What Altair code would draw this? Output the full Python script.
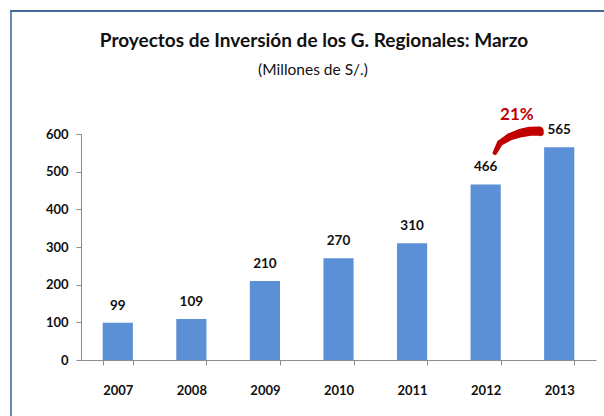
import altair as alt
import pandas as pd

# Investment projects of regional governments, March of each year (millions of S/.)
years = ["2007", "2008", "2009", "2010", "2011", "2012", "2013"]
values = [99, 109, 210, 270, 310, 466, 565]
y_ticks = [0, 100, 200, 300, 400, 500, 600]

title_text = "Proyectos de Inversión de los G. Regionales: Marzo"
subtitle_text = "(Millones de S/.)"

# Growth note between the last two years
growth_label = ["21%"]
growth_pos = [5.425]
growth_val = [650]

# Hand-drawn style arrow stroke (x in category index units, y in data units)
arc_x = [5.126, 5.194, 5.330, 5.466, 5.602, 5.729, 5.748]
arc_y = [550.4, 576.1, 592.8, 601.9, 607.2, 608.0, 602.6]
arc_w = [4.5, 6.0, 7.5, 8.5, 9.0, 9.0, 6.0]

W, H = 515, 226
FONT = "Lato"
BAR = "#5B8FD6"
AXIS_GREY = "#8C8C8C"
FRAME_LEFT = "#6A8AB6"
FRAME_TOP = "#47689B"
RED = "#C00000"
INK = "#111111"

bars_df = pd.DataFrame({"year": years, "value": values})
arc_df = pd.DataFrame({"x": arc_x, "y": arc_y, "w": arc_w})
note_df = pd.DataFrame({"x": growth_pos, "y": growth_val, "t": growth_label})
one = pd.DataFrame({"k": [0]})

x_enc = alt.X(
    "year:N",
    sort=None,
    scale=alt.Scale(paddingInner=0.59, paddingOuter=0.295),
    axis=alt.Axis(
        title=None, labelAngle=0, tickBand="extent", tickSize=5,
        labelFontSize=13, labelFontWeight="bold", labelColor=INK,
        labelPadding=19, domainColor=AXIS_GREY, tickColor=AXIS_GREY,
    ),
)
y_scale = alt.Scale(domain=[0, 600])
y_enc = alt.Y(
    "value:Q",
    scale=y_scale,
    axis=alt.Axis(
        title=None, values=y_ticks, grid=False, tickSize=5,
        labelFontSize=13, labelFontWeight="bold", labelColor=INK,
        labelPadding=8, domainColor=AXIS_GREY, tickColor=AXIS_GREY,
    ),
)

base = alt.Chart(bars_df)
bars = base.mark_bar(color=BAR).encode(x=x_enc, y=y_enc)
labels = base.mark_text(
    baseline="alphabetic", dy=-13, fontSize=13.5, fontWeight="bold", color=INK
).encode(x=x_enc, y=y_enc, text="value:Q")

qx = alt.Scale(domain=[-0.5, 6.5])
arc = alt.Chart(arc_df).mark_trail(color=RED).encode(
    x=alt.X("x:Q", scale=qx, axis=None),
    y=alt.Y("y:Q", scale=y_scale, axis=None),
    size=alt.Size("w:Q", scale=None, legend=None),
    order=alt.Order("x:Q"),
)
note = alt.Chart(note_df).mark_text(
    fontSize=17, fontWeight="bold", color=RED, baseline="middle"
).encode(
    x=alt.X("x:Q", scale=qx, axis=None),
    y=alt.Y("y:Q", scale=y_scale, axis=None),
    text="t:N",
)

# Chart heading, centred over the framed area
title = alt.Chart(one).mark_text(
    fontSize=19, fontWeight="bold", color=INK, baseline="alphabetic", text=title_text
).encode(x=alt.value(233), y=alt.value(-87))
subtitle = alt.Chart(one).mark_text(
    fontSize=15.5, color=INK, baseline="alphabetic", text=subtitle_text
).encode(x=alt.value(232), y=alt.value(-59))

# Outer frame (left and top edges)
frame_left = alt.Chart(one).mark_rule(color=FRAME_LEFT, strokeWidth=2).encode(
    x=alt.value(-70), y=alt.value(-124), y2=alt.value(H + 120)
)
frame_top = alt.Chart(one).mark_rule(color=FRAME_TOP, strokeWidth=2).encode(
    x=alt.value(-71), x2=alt.value(W + 100), y=alt.value(-123)
)

chart = (
    alt.layer(
        alt.layer(bars, labels),
        alt.layer(frame_left, frame_top, title, subtitle, arc, note),
    )
    .resolve_scale(x="independent")
    .resolve_axis(y="independent")
    .properties(
        width=W,
        height=H,
        autosize=alt.AutoSizeParams(type="none"),
        padding={"left": 81, "top": 134, "right": 8, "bottom": 56},
    )
    .configure(font=FONT)
    .configure_view(stroke=None)
)

chart.save("out.html", embed_options={"renderer": "svg", "actions": False})
